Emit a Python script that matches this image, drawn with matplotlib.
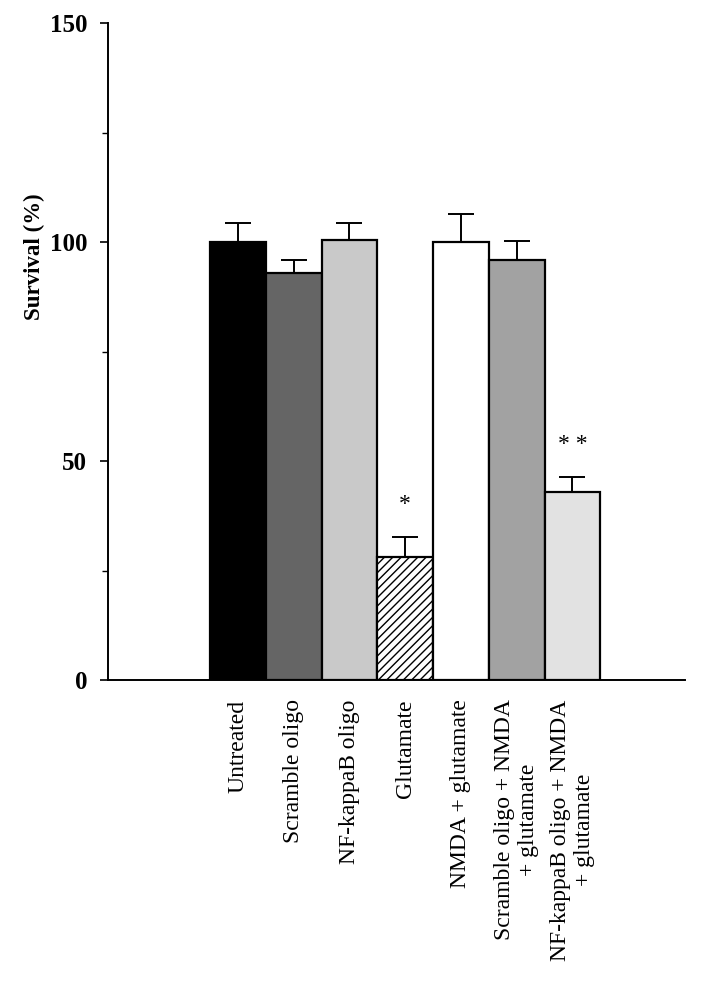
import matplotlib.pyplot as plt

# data
categories = [
    "Untreated",
    "Scramble oligo",
    "NF-kappaB oligo",
    "Glutamate",
    "NMDA + glutamate",
    "Scramble oligo + NMDA\n+ glutamate",
    "NF-kappaB oligo + NMDA\n+ glutamate",
]
survival = [100, 93, 100.5, 28, 100, 96, 43]
errors = [4.3, 3.0, 3.8, 4.6, 6.4, 4.2, 3.3]
marks = ["", "", "", "*", "", "", "* *"]
fills = ["#000000", "#656565", "#c9c9c9", "#ffffff", "#ffffff", "#a2a2a2", "#e2e2e2"]
hatches = [None, None, None, "////", None, None, None]
yticks = [0, 50, 100, 150]
yminor = [25, 75, 125]

plt.rcParams["font.family"] = ["Liberation Serif", "DejaVu Serif"]
plt.rcParams["hatch.linewidth"] = 1.0

fig = plt.figure(figsize=(7.2, 9.92), dpi=100)
ax = fig.add_axes([108 / 720, 1 - 680 / 992, (685 - 108) / 720, (680 - 23) / 992])

x = list(range(len(categories)))
for i in x:
    ax.bar(i, survival[i], width=1.0, color=fills[i], edgecolor="black",
           linewidth=1.6, hatch=hatches[i], zorder=2)
    ax.errorbar(i, survival[i], yerr=[[0], [errors[i]]], fmt="none",
                ecolor="black", elinewidth=1.4, capsize=9.5, capthick=1.4, zorder=1)
    if marks[i]:
        ax.text(i, survival[i] + errors[i] + 7.5, marks[i], ha="center", va="center",
                fontsize=17)

ax.set_xlim(-2.33, 8.02)
ax.set_ylim(0, 150)
ax.spines["top"].set_visible(False)
ax.spines["right"].set_visible(False)
ax.spines["left"].set_linewidth(1.4)
ax.spines["bottom"].set_linewidth(1.4)

ax.set_yticks(yticks)
ax.set_yticklabels([str(t) for t in yticks], fontsize=18, fontweight="bold")
ax.set_yticks(yminor, minor=True)
ax.tick_params(axis="y", which="major", length=6, width=1.2, pad=9)
ax.tick_params(axis="y", which="minor", length=4, width=1.0)

ax.set_xticks(x)
ax.set_xticklabels(categories, rotation=90, fontsize=17, ha="center", va="top",
                   multialignment="center", linespacing=1.15)
ax.tick_params(axis="x", length=0, pad=14)

ax.set_ylabel("Survival (%)", fontsize=16.5, fontweight="bold")
ax.yaxis.set_label_coords(-0.109, 0.644)

fig.savefig("out.png", dpi=100)
